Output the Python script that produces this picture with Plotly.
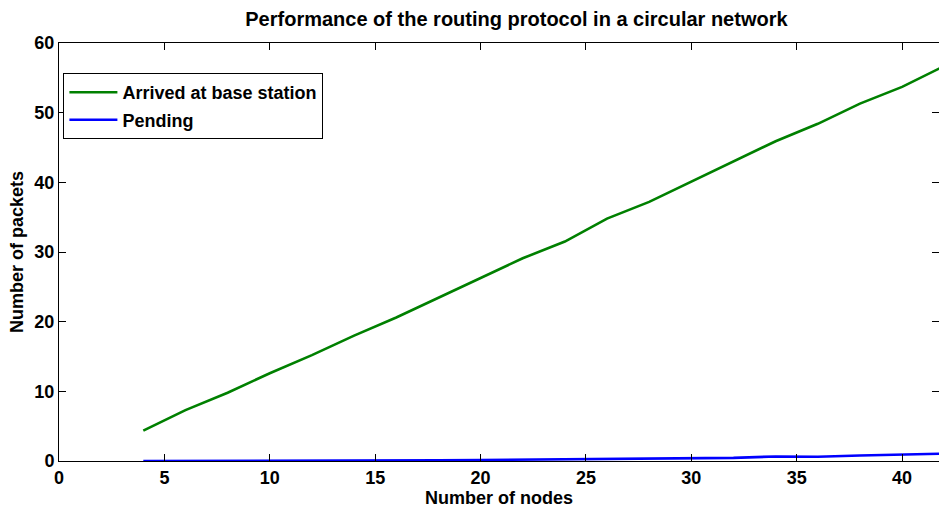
import plotly.graph_objects as go

nodes = [4, 6, 8, 10, 12, 14, 16, 18, 20, 22, 24, 26, 28, 30, 32, 34, 36, 38, 40, 42]
arrived = [4.35, 7.3, 9.8, 12.6, 15.2, 18.0, 20.6, 23.4, 26.3, 29.1, 31.5, 34.8, 37.2, 40.1, 43.0, 45.9, 48.4, 51.3, 53.7, 56.7]
pending = [0.0, 0.0, 0.0, 0.02, 0.05, 0.1, 0.1, 0.1, 0.15, 0.2, 0.25, 0.3, 0.3, 0.37, 0.45, 0.65, 0.62, 0.8, 0.95, 1.05]

FONT = "Liberation Sans, Arial, sans-serif"

fig = go.Figure()
fig.add_trace(go.Scatter(x=nodes, y=arrived, mode="lines", name="Arrived at base station",
                         line=dict(color="rgb(0,128,0)", width=2.6), legendgroup="a"))
fig.add_trace(go.Scatter(x=nodes, y=pending, mode="lines", name="Pending",
                         line=dict(color="rgb(0,0,255)", width=2.6), legendgroup="b"))

axis_common = dict(
    showgrid=False, zeroline=False, showline=True, linecolor="black", linewidth=1,
    mirror="ticks", ticks="inside", ticklen=7, tickcolor="black", tickwidth=1,
    tickfont=dict(family=FONT, size=18, color="black", weight="bold"),
)

fig.update_layout(
    width=939, height=509,
    margin=dict(l=59, r=0, t=43, b=48),
    paper_bgcolor="white", plot_bgcolor="white",
    title=dict(text="Performance of the routing protocol in a circular network",
               x=0.55, xanchor="center", y=0.962, yanchor="middle",
               font=dict(family=FONT, size=20, color="black", weight="bold")),
    xaxis=dict(range=[0, 41.75], tickvals=[0, 5, 10, 15, 20, 25, 30, 35, 40],
               title=dict(text="Number of nodes", standoff=0,
                          font=dict(family=FONT, size=18, color="black", weight="bold")),
               **axis_common),
    yaxis=dict(range=[0, 60], tickvals=[0, 10, 20, 30, 40, 50, 60],
               title=dict(text="Number of packets", standoff=6,
                          font=dict(family=FONT, size=18, color="black", weight="bold")),
               **axis_common),
    legend=dict(x=0.005, y=0.928, xanchor="left", yanchor="top",
                bordercolor="black", borderwidth=1, bgcolor="white",
                traceorder="grouped", tracegroupgap=1, itemwidth=48,
                font=dict(family=FONT, size=18, color="black", weight="bold")),
    showlegend=True,
)

fig.write_html("out.html")
